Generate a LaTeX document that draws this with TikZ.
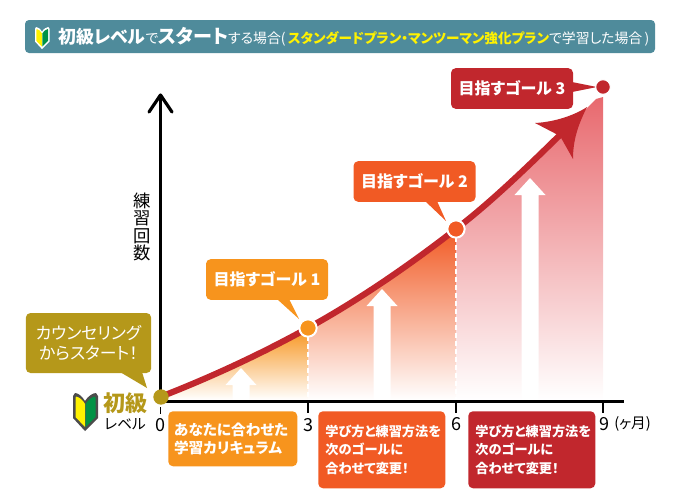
\documentclass[tikz,border=0pt]{standalone}
\usepackage{fontspec}
\setmainfont{Noto Sans CJK JP}[RawFeature=+palt]
\usetikzlibrary{calc}
\definecolor{kinu}{HTML}{B5981A}
\definecolor{daidai}{HTML}{F7941D}
\definecolor{daidaimid}{HTML}{FCB850}
\definecolor{shu}{HTML}{F15A24}
\definecolor{aka}{HTML}{C1272D}
\definecolor{momo}{HTML}{E8696E}
\definecolor{hanada}{HTML}{4F8B9B}
\definecolor{kiiro}{HTML}{FFF200}
\definecolor{midori}{HTML}{009245}
\newcommand\fsz[1]{\fontsize{#1}{#1}\selectfont}
% wakaba mark: x, y, scale, outline colour
\newcommand\wakaba[4]{
    \begin{scope}[shift={(#1,#2)},scale=#3]
        \fill[#4,line join=round] (12,8) .. controls (9,3) and (5,0) .. (2,0) -- (0,3) -- (0,25) -- (12,38) -- (25,25) -- (25,3) -- (23,0) .. controls (20,0) and (15,3) .. (12,8) -- cycle;
        \fill[yellow] (12,11) .. controls (10,7) and (6,4) .. (3,3.5) -- (2.5,5) -- (2.5,24) -- (12,34) -- cycle;
        \fill[midori] (12.5,11) .. controls (15,7) and (19,4) .. (22,3.5) -- (22.5,5) -- (22.5,24) -- (12.5,34) -- cycle;
    \end{scope}
}
\tikzset{
    callout/.style={rounded corners=3.5pt,text=white,font=\bfseries\fsz{12},inner sep=0pt,align=center},
    goalbox/.style={callout,minimum width=91.5pt,minimum height=30.5pt},
    notebox/.style={rounded corners=3.5pt,inner sep=0pt,anchor=north west},
    notetext/.style={anchor=west,text=white,font=\bfseries\fsz{9.9},align=left},
    dot/.style={circle,inner sep=0pt,minimum size=13pt,draw=white,line width=1.5pt},
    upshaft/.style={white},
    axisnum/.style={font=\fsz{13.5},inner sep=0pt},
    kyokusen/.style={aka,line width=4.6pt,line cap=butt},
    kirikae/.style={white,line width=1.4pt,dash pattern=on 4pt off 2pt},
}
\begin{document}
\begin{tikzpicture}[x=.75pt,y=-.75pt,>=stealth,line join=round]
    \useasboundingbox (0,0) rectangle (680,500);
    \coordinate (start) at (160,397);
    \coordinate (pa) at (308,328);
    \coordinate (pb) at (456,229);
    \coordinate (pc) at (596,99);
    % mau nen duoi duong cong
    \shade[top color=daidai,middle color=daidaimid,bottom color=white] (start |- 0,400) -- (start) .. controls (209,378) and (259,355) .. (pa) -- (pa |- 0,400) -- cycle;
    \shade[top color=shu,bottom color=white] (pa |- 0,400) -- (pa) .. controls (357,301) and (407,267) .. (pb) -- (pb |- 0,400) -- cycle;
    \shade[top color=momo,bottom color=white] (pb |- 0,400) -- (pb) .. controls (505,191) and (553,142) .. (pc) -- (603,97) -- (603,400) -- cycle;
    % mui ten trang
    \foreach \px/\ptop/\pbase in {241/368/385,382/289/306,530/178/195}{
        \fill[upshaft] (\px-8.5,400) -- (\px-8.5,\pbase) -- (\px-15.5,\pbase) -- (\px,\ptop) -- (\px+15.5,\pbase) -- (\px+8.5,\pbase) -- (\px+8.5,400) -- cycle;
    }
    \draw[kirikae] (pa) -- (pa |- 0,400);
    \draw[kirikae] (pb) -- (pb |- 0,400);
    % truc
    \draw[line width=2.6pt,line cap=butt] (160.5,397) -- (160.5,96);
    \draw[line width=2.4pt,line cap=round] (149,112) -- (160.5,95) -- (172,112);
    \draw[line width=2.1pt,line cap=butt] (160,401.5) -- (624,401.5);
    \foreach \px in {308,456,603}{
        \draw[line width=1.2pt] (\px,401) -- (\px,413);
    }
    \draw[line width=1.2pt] (160.5,407) -- (160.5,414);
    % duong cong
    \draw[kyokusen] (start) .. controls (209,378) and (259,355) .. (pa) .. controls (357,301) and (407,267) .. (pb) .. controls (493,200.5) and (529,165.3) .. (563,132);
    \fill[aka] (535,123) .. controls (555,122) and (575,115) .. (587,107) .. controls (578,125) and (573,140) .. (573,159) -- (560,136) -- cycle;
    % cac nut
    \node[goalbox,minimum width=94pt,minimum height=45pt,fill=kinu,font=\fsz{12.6}] (consult) at (88.5,343) {カウンセリング\\[3pt]からスタート！};
    \node[goalbox,fill=daidai] (goalA) at (267,279.5) {目指すゴール 1};
    \node[goalbox,fill=shu] (goalB) at (414.5,181.5) {目指すゴール 2};
    \node[goalbox,fill=aka] (goalC) at (512,88.5) {目指すゴール 3};
    \fill[kinu] (120,372) -- (142,372) -- (147,388) -- cycle;
    \fill[daidai] (277,299) -- (289,299) -- (299,319) -- cycle;
    \fill[shu] (425,201) -- (437,201) -- (446,221) -- cycle;
    \fill[aka] (572,82) -- (572,92) -- (597,87) -- cycle;
    \node[dot,minimum size=11.5pt,draw=none,fill=kinu] (dotS) at (161,397) {};
    \node[dot,fill=daidai] (dotA) at (pa) {};
    \node[dot,fill=shu] (dotB) at (pb) {};
    \node[dot,minimum size=11pt,line width=.8pt,fill=aka] (dotC) at (603,87) {};
    % hop duoi
    \node[notebox,fill=daidai,minimum width=96.75pt,minimum height=41.25pt] (noteA) at (168,411) {};
    \node[notebox,fill=shu,minimum width=95.25pt,minimum height=57.75pt] (noteB) at (318,411) {};
    \node[notebox,fill=aka,minimum width=95.25pt,minimum height=57.75pt] (noteC) at (468,411) {};
    \node[notetext,font=\bfseries\fsz{11}] (textA) at ([xshift=1pt]noteA.west) {あなたに合わせた\\[2.5pt]学習カリキュラム};
    \node[notetext] (textB) at ([xshift=2pt]noteB.west) {学び方と練習方法を\\[4pt]次のゴールに\\[4pt]合わせて変更！};
    \node[notetext] (textC) at ([xshift=2pt]noteC.west) {学び方と練習方法を\\[4pt]次のゴールに\\[4pt]合わせて変更！};
    % nhan truc
    \node[font=\fsz{13},align=center,inner sep=0pt] (ylabel) at (142,227) {練\\[0pt]習\\[0pt]回\\[0pt]数};
    \node[axisnum] (numO) at (160.5,425) {0};
    \node[axisnum] (numA) at (308,425) {3};
    \node[axisnum] (numB) at (456,424) {6};
    \node[axisnum] (numC) at (604,424) {9};
    \node[anchor=west,inner sep=0pt,font=\fsz{11}] (unit) at (614,424) {(ヶ月)};
    \wakaba{73}{393}{1}{black!70}
    \node[anchor=west,inner sep=0pt,text=kinu,font=\bfseries\fsz{16.5}] (shokyu) at (103,403) {初級};
    \node[anchor=west,inner sep=0pt,font=\fsz{11}] (level) at (104,424) {レベル};
    % tieu de
    \fill[hanada,rounded corners=3pt] (25,20) rectangle (655,53);
    \wakaba{35}{27}{.58}{white}
    \node[anchor=west,inner sep=0pt,text=white,font=\fsz{10.4}] (title) at (58,36.5) {{\bfseries\fsz{13.4}初級レベル}で{\bfseries\fsz{14.3}スタート}する場合(\,\textcolor{kiiro}{\bfseries\fsz{10.2}スタンダードプラン・マンツーマン強化プラン}で学習した場合\,)};
\end{tikzpicture}
\end{document}
